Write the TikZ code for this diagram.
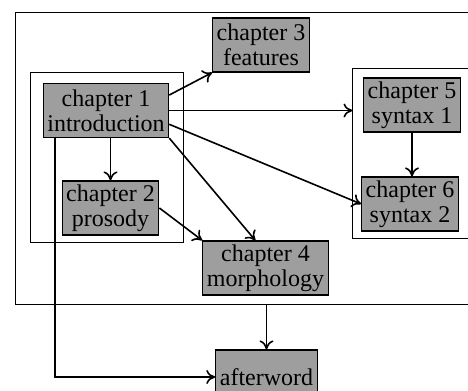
\documentclass[tikz,border=0pt]{standalone}
\usepackage{fontspec}
\setmainfont{Liberation Serif}
\usetikzlibrary{arrows.meta,calc}
\begin{document}
\begin{tikzpicture}[x=0.5pt,y=-0.5pt,
  chap/.style={draw=black, line width=0.6pt, fill=black!38, align=center,
    font=\fontsize{12}{12.5}\selectfont, inner xsep=2pt, inner ysep=1.5pt,
    minimum height=27pt},
  frame/.style={draw=black, line width=0.5pt, minimum width=#1},
  conn/.style={line width=0.8pt, -{To[length=4.5pt,width=7pt]}}]
\useasboundingbox (0,0) rectangle (468,391);
\clip (0,0) rectangle (468,391);
% frames
\node[frame=242pt, minimum height=146pt] (outer) at (258,159) {};
\node[frame=76.5pt, minimum height=85pt] (lframe) at (107.5,158) {};
\node[frame=73.5pt, minimum height=85pt] (rframe) at (426.5,154) {};
% chapters
\node[chap] (ch1) at (106,110.5) {chapter 1\\introduction};
\node[chap] (ch2) at (110.5,208) {chapter 2\\prosody};
\node[chap] (ch3) at (261,45) {chapter 3\\features};
\node[chap] (ch4) at (265.5,268) {chapter 4\\morphology};
\node[chap] (ch5) at (412,105) {chapter 5\\syntax 1};
\node[chap] (ch6) at (410,204) {chapter 6\\syntax 2};
\node[chap] (aw) at (266.5,377) {afterword};
% connectors
\draw[conn] ($(ch1.north east)!0.22!(ch1.south east)$) -- (ch3.south west);
\draw[conn] (ch1.east) -- (ch1.east -| rframe.west);
\draw[conn] ($(ch1.north east)!0.75!(ch1.south east)$) -- (ch6.west);
\draw[conn] (ch1.south east) -- ($(ch4.north west)!0.42!(ch4.north east)$);
\draw[conn] (ch2.north |- ch1.south) -- (ch2.north);
\draw[conn] (ch2.east) -- (ch4.north west);
\draw[conn] (ch5.south) -- (ch6.north -| ch5.south);
\draw[conn] (aw.north |- outer.south) -- (aw.north);
\coordinate (c1) at ($(ch1.south west)+(12,0)$);
\draw[conn] (c1) |- (aw.west);
\end{tikzpicture}
\end{document}
